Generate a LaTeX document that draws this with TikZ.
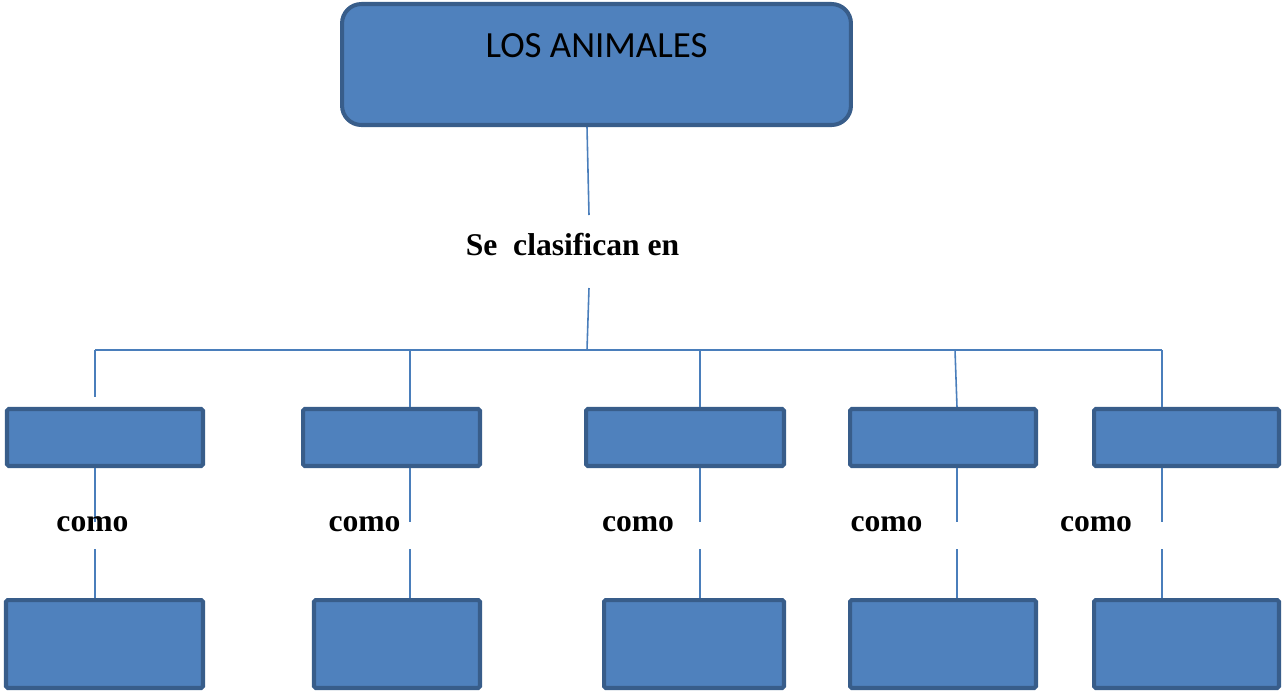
\documentclass[tikz,border=0pt]{standalone}
\usepackage{fontspec}
\setmainfont{Liberation Serif}
\newfontfamily\carlito{Carlito}
\usetikzlibrary{positioning}
\definecolor{AnimalFill}{HTML}{4F81BD}
\definecolor{AnimalEdge}{HTML}{385D8A}
\definecolor{AnimalLine}{HTML}{4A7EBB}

\begin{document}
\begin{tikzpicture}[
      x=0.02cm,y=-0.02cm,
      raiz/.style={draw=AnimalEdge,fill=AnimalFill,line width=2.3pt,rounded corners=11pt,minimum width=10.18cm,minimum height=2.42cm},
      caja/.style={draw=AnimalEdge,fill=AnimalFill,line width=2.3pt,rounded corners=1pt,minimum height=1.14cm},
      cajabaja/.style={caja,minimum height=1.76cm},
      rel/.style={font=\fontsize{18}{20}\selectfont\bfseries,inner sep=0pt,anchor=base},
      lin/.style={draw=AnimalLine,line width=0.9pt}
    ]
      \useasboundingbox (0,0) rectangle (1282,691);
      % root
      \node[raiz] (animales) at (596.5,64.5) {};
      \node[font=\carlito\fontsize{21}{24}\selectfont,inner sep=0pt,below=0.62cm of animales.north] (titulo) {LOS ANIMALES};
      \node[rel] (clasif) at (572.5,255) {Se\ \ clasifican en};
      % first row
      \node[caja,minimum width=3.92cm] (cat1) at (105,437.5) {};
      \node[caja,minimum width=3.54cm] (cat2) at (391.5,437.5) {};
      \node[caja,minimum width=3.96cm] (cat3) at (685,437.5) {};
      \node[caja,minimum width=3.72cm] (cat4) at (943,437.5) {};
      \node[caja,minimum width=3.70cm] (cat5) at (1186.5,437.5) {};
      % second row
      \node[cajabaja,minimum width=3.94cm] (sub1) at (104.5,644) {};
      \node[cajabaja,minimum width=3.32cm] (sub2) at (397,644) {};
      \node[cajabaja,minimum width=3.60cm] (sub3) at (694,644) {};
      \node[cajabaja,minimum width=3.72cm] (sub4) at (943,644) {};
      \node[cajabaja,minimum width=3.70cm] (sub5) at (1186.5,644) {};
      % tree
      \coordinate (arriba) at (589,215);
      \coordinate (abajo) at (589,288);
      \coordinate (cruce) at (587,350);
      \coordinate (barraIzq) at (95,350);
      \coordinate (barraDer) at (1162,350);
      \coordinate (corte) at (95,397);
      \coordinate (d2) at (410,350);
      \coordinate (d3) at (700,350);
      \coordinate (d4) at (955,350);
      \draw[lin] ([xshift=-0.19cm]animales.south) -- (arriba);
      \draw[lin] (abajo) -- (cruce);
      \draw[lin] (barraIzq) -- (barraDer);
      \draw[lin] (barraIzq) -- (corte);
      \draw[lin] (d2) -- (d2 |- cat2.north);
      \draw[lin] (d3) -- (d3 |- cat3.north);
      \draw[lin] (d4) -- ([xshift=0.04cm]d4 |- cat4.north);
      \draw[lin] (barraDer) -- (barraDer |- cat5.north);
      % como links
      \coordinate (m1) at (95,522);
      \coordinate (m2) at (410,522);
      \coordinate (m3) at (700,522);
      \coordinate (m4) at (957,522);
      \coordinate (m5) at (1162,522);
      \coordinate (n1) at (95,549);
      \coordinate (n2) at (410,549);
      \coordinate (n3) at (700,549);
      \coordinate (n4) at (957,549);
      \coordinate (n5) at (1162,549);
      \draw[lin] (cat1.south -| m1) -- (m1);
      \draw[lin] (cat2.south -| m2) -- (m2);
      \draw[lin] (cat3.south -| m3) -- (m3);
      \draw[lin] (cat4.south -| m4) -- (m4);
      \draw[lin] (cat5.south -| m5) -- (m5);
      \draw[lin] (n1) -- (n1 |- sub1.north);
      \draw[lin] (n2) -- (n2 |- sub2.north);
      \draw[lin] (n3) -- (n3 |- sub3.north);
      \draw[lin] (n4) -- (n4 |- sub4.north);
      \draw[lin] (n5) -- (n5 |- sub5.north);
      \node[rel] (como1) at (92.5,531) {como};
      \node[rel] (como2) at (364.5,531) {como};
      \node[rel] (como3) at (638,531) {como};
      \node[rel] (como4) at (886.5,531) {como};
      \node[rel] (como5) at (1096,531) {como};
    \end{tikzpicture}
\end{document}
